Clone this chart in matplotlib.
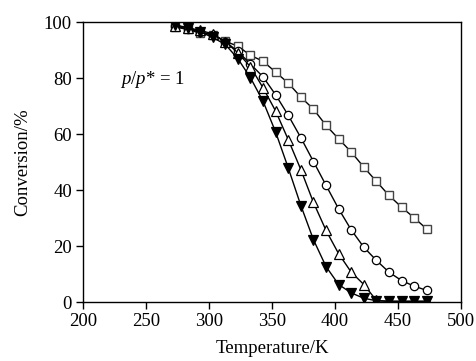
import matplotlib
matplotlib.use("Agg")
import matplotlib.pyplot as plt

plt.rcParams['font.family'] = ['Liberation Serif', 'DejaVu Serif']
plt.rcParams['mathtext.fontset'] = 'custom'
plt.rcParams['mathtext.it'] = 'Liberation Serif:italic'
plt.rcParams['mathtext.rm'] = 'Liberation Serif'

temperature = [273, 283, 293, 303, 313, 323, 333, 343, 353, 363, 373,
               383, 393, 403, 413, 423, 433, 443, 453, 463, 473]
squares = [98.2, 97.4, 96.0, 95.5, 93.1, 91.4, 88.1, 86.0, 82.1, 78.2, 73.2,
           68.9, 63.1, 58.3, 53.6, 48.2, 43.1, 38.1, 33.9, 30.1, 26.1]
circles = [98.5, 97.5, 96.5, 95.5, 93.0, 89.5, 85.0, 80.4, 74.0, 66.7, 58.7,
           50.2, 41.7, 33.3, 25.8, 19.6, 14.9, 10.7, 7.7, 5.7, 4.2]
triangles_up = [98.5, 98.0, 97.0, 95.8, 93.0, 89.0, 84.0, 76.5, 68.2, 58.0, 47.3,
                35.6, 25.6, 17.3, 10.7, 6.3, 0.6, 0.3, 0.3, 0.3, 0.3]
triangles_down = [99.0, 98.0, 96.5, 94.5, 92.0, 86.9, 80.1, 71.7, 60.7, 47.9, 34.5,
                  22.3, 12.7, 6.3, 3.3, 1.4, 0.5, 0.3, 0.3, 0.3, 0.3]

xticks = [200, 250, 300, 350, 400, 450, 500]
yticks = [0, 20, 40, 60, 80, 100]

fig = plt.figure(figsize=(4.77, 3.61), dpi=100)
ax = fig.add_axes([0.174, 0.163, 0.792, 0.776])

lw = 1.0
ax.plot(temperature, squares, '-', color='black', lw=lw, marker='s', ms=5.5,
        mfc='white', mec='#444444', mew=1.0)
ax.plot(temperature, circles, '-', color='black', lw=lw, marker='o', ms=6,
        mfc='white', mec='black', mew=0.9)
ax.plot(temperature, triangles_up, '-', color='black', lw=lw, marker='^', ms=6.5,
        mfc='white', mec='black', mew=0.9)
ax.plot(temperature, triangles_down, '-', color='black', lw=lw, marker='v', ms=6.5,
        mfc='black', mec='black', mew=0.9)

ax.set_xlim(200, 500)
ax.set_ylim(0, 100)
ax.set_xticks(xticks)
ax.set_yticks(yticks)
ax.tick_params(direction='out', length=5, width=1, labelsize=13.5, pad=3,
               top=False, right=False)
for s in ax.spines.values():
    s.set_linewidth(1.0)

ax.set_xlabel('Temperature/K', fontsize=13.5, labelpad=7)
ax.set_ylabel('Conversion/%', fontsize=13.5, labelpad=9)

ax.text(229, 79.5, r'$p$/$p$* = 1', fontsize=13.5, ha='left', va='center')

fig.savefig('out.png', dpi=100)
